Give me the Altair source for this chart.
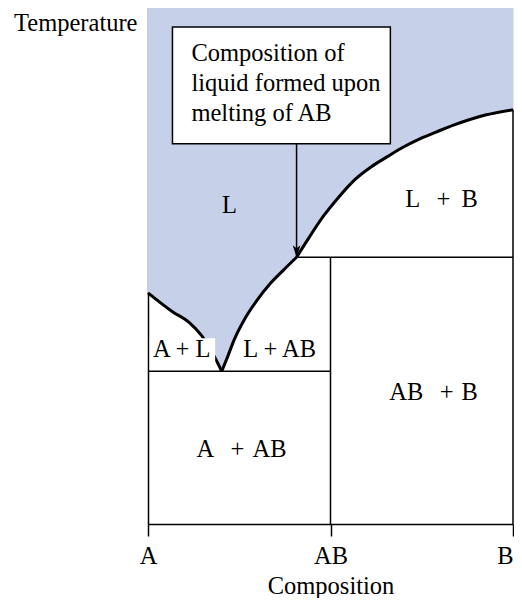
import altair as alt
import pandas as pd

# ---- data (composition x in [0,1] from A to B, temperature T normalised) ----
# A liquidus (left), AB liquidus (eutectic -> peritectic), B liquidus (peritectic -> B)
left_x = [0.0, 0.068, 0.114, 0.146, 0.182, 0.202]
left_T = [0.448, 0.411, 0.390, 0.366, 0.324, 0.296]
mid_x = [0.202, 0.218, 0.236, 0.263, 0.299, 0.335, 0.371, 0.407]
mid_T = [0.296, 0.324, 0.357, 0.395, 0.434, 0.466, 0.492, 0.517]
right_x = [0.407, 0.443, 0.480, 0.516, 0.566, 0.611, 0.656, 0.701, 0.746,
           0.791, 0.837, 0.882, 0.927, 1.0]
right_T = [0.517, 0.557, 0.596, 0.628, 0.667, 0.692, 0.712, 0.731, 0.747,
           0.760, 0.773, 0.784, 0.793, 0.803]

eutectic_T = 0.296
peritectic_x = 0.407
peritectic_T = 0.517
AB_x = 0.5
B_liquidus_T = 0.803
T_top = 1.0

tick_values = [0, 0.5, 1]
tick_labels = ["A", "AB", "B"]

region_labels = [
    "L",
    "L\u2002\u2006+\u00a0\u2009B",
    "AB\u2002\u2006+\u2004B",
    "A\u2002\u2006+\u2004AB",
    "A + L",
    "L + AB",
]
region_x = [0.203, 0.705, 0.661, 0.133, 0.014, 0.261]
region_T = [0.603, 0.614, 0.240, 0.130, 0.324, 0.324]

note_lines = ["Composition of", "liquid formed upon", "melting of AB"]
note_box_x = [0.067, 0.664]
note_box_T = [0.737, 0.963]
note_text_x = 0.119
note_text_T = 0.897

al_patch_x = [0.005, 0.184]
al_patch_T = [0.300, 0.360]

FONT = "Liberation Serif"
FS = 24.5
BLUE = "#c6d0e8"

# ---- scales / axes ----
xs = alt.Scale(domain=[0, 1], nice=False, zero=False)
ys = alt.Scale(domain=[0, 1], nice=False, zero=False)

label_expr = " : ".join(
    [f"datum.value == {v} ? '{l}'" for v, l in zip(tick_values[:-1], tick_labels[:-1])]
    + [f"'{tick_labels[-1]}'"]
)

x_axis = alt.Axis(
    values=tick_values, labelExpr=label_expr, grid=False,
    domainColor="black", domainWidth=1.5, tickColor="black", tickSize=12,
    tickWidth=1.5, labelFont=FONT, labelFontSize=FS, labelColor="black",
    labelBaseline="alphabetic", labelPadding=27, labelFlush=False,
    labelAlign={"condition": {"test": f"datum.value == {tick_values[-1]}",
                              "value": "right"}, "value": "center"},
    titleFont=FONT, titleFontSize=FS, titleFontWeight="normal",
    titleColor="black", titleY=69, titleBaseline="alphabetic",
)
y_axis = alt.Axis(
    labels=False, ticks=False, grid=False, domainColor="black",
    domainWidth=1.5, titleAngle=0, titleAlign="right",
    titleBaseline="alphabetic", titleX=-11, titleY=22, titleFont=FONT,
    titleFontSize=FS, titleFontWeight="normal", titleColor="black",
)


def X(f="x"):
    return alt.X(f"{f}:Q", scale=xs, axis=x_axis, title="Composition")


def Y(f="T"):
    return alt.Y(f"{f}:Q", scale=ys, axis=y_axis, title="Temperature", stack=None)


# ---- tables ----
n_l, n_m, n_r = len(left_x), len(mid_x), len(right_x)
curve_df = pd.DataFrame({
    "x": left_x + mid_x + right_x,
    "T": left_T + mid_T + right_T,
    "top": [T_top] * (n_l + n_m + n_r),
    "branch": ["a"] * n_l + ["b"] * n_m + ["c"] * n_r,
})

rules_df = pd.DataFrame({
    "x": [0, peritectic_x, AB_x, 1],
    "x2": [AB_x, 1, AB_x, 1],
    "T": [eutectic_T, peritectic_T, 0, 0],
    "T2": [eutectic_T, peritectic_T, peritectic_T, B_liquidus_T],
})

patch_df = pd.DataFrame({"x": [al_patch_x[0]], "x2": [al_patch_x[1]],
                         "T": [al_patch_T[0]], "T2": [al_patch_T[1]]})

box_df = pd.DataFrame({"x": [note_box_x[0]], "x2": [note_box_x[1]],
                       "T": [note_box_T[0]], "T2": [note_box_T[1]]})

arrow_df = pd.DataFrame({"x": [peritectic_x], "T": [note_box_T[0]],
                         "T2": [peritectic_T]})
head_df = pd.DataFrame({"x": [peritectic_x], "T": [peritectic_T]})

note_df = pd.DataFrame({"x": [note_text_x], "T": [note_text_T],
                        "text": ["\n".join(note_lines)]})

labels_df = pd.DataFrame({"x": region_x, "T": region_T, "text": region_labels})

# ---- layers ----
area = alt.Chart(curve_df).mark_area(
    color=BLUE, opacity=1, orient="vertical", interpolate="monotone",
    stroke=BLUE, strokeWidth=1).encode(
    x=X(), y=Y(), y2="top:Q", detail="branch:N")

curve = alt.Chart(curve_df).mark_line(color="black", strokeWidth=3,
                                      interpolate="monotone").encode(
    x=X(), y=Y(), detail="branch:N")

rules = alt.Chart(rules_df).mark_rule(color="black", strokeWidth=1.5).encode(
    x=X(), x2="x2:Q", y=Y(), y2="T2:Q")

patch = alt.Chart(patch_df).mark_rect(color="white", opacity=1).encode(
    x=X(), x2="x2:Q", y=Y(), y2="T2:Q")

arrow = alt.Chart(arrow_df).mark_rule(color="black", strokeWidth=1.5).encode(
    x=X(), y=Y(), y2="T2:Q")

head = alt.Chart(head_df).mark_point(
    shape="M0,0 L-0.65,-2 L0,-1.5 L0.65,-2 Z", filled=True, size=144,
    color="black", opacity=1, strokeWidth=0).encode(x=X(), y=Y())

box = alt.Chart(box_df).mark_rect(fill="white", stroke="black",
                                  strokeWidth=1.5, opacity=1).encode(
    x=X(), x2="x2:Q", y=Y(), y2="T2:Q")

note = alt.Chart(note_df).mark_text(
    align="left", baseline="alphabetic", font=FONT, fontSize=FS,
    color="black", lineBreak="\n", lineHeight=30).encode(
    x=X(), y=Y(), text="text:N")

labels = alt.Chart(labels_df).mark_text(
    align="left", baseline="alphabetic", font=FONT, fontSize=FS,
    color="black").encode(x=X(), y=Y(), text="text:N")

chart = alt.layer(area, curve, rules, patch, arrow, head, box, note, labels).properties(
    width=365, height=516,
    autosize=alt.AutoSizeParams(type="none"),
    padding={"left": 140, "top": 0, "right": 1, "bottom": 74},
    background="white",
).configure_view(stroke=None)

chart.save("out.html", embed_options={"renderer": "svg", "actions": False})
